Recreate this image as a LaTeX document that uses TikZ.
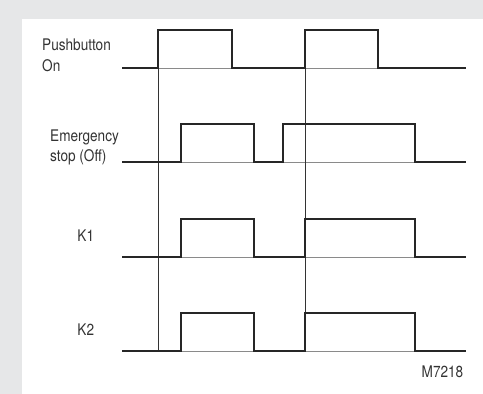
\documentclass[tikz,border=0pt]{standalone}
\usepackage{fontspec}
\setmainfont{TeX Gyre Heros}[FakeStretch=0.85]
\definecolor{bggray}{HTML}{E6E7E8}
\definecolor{txtgray}{HTML}{333333}
\definecolor{basegray}{HTML}{8A8A8A}
\tikzset{
  lbl/.style={anchor=base west, inner sep=0pt, text=txtgray, font=\fontsize{16}{19}\selectfont},
  wave/.style={line width=2pt, black!85, line join=miter},
  baseln/.style={line width=0.8pt, basegray},
  marker/.style={line width=0.8pt, black!80}
}
\begin{document}
\begin{tikzpicture}[x=1pt,y=-1pt]
\fill[bggray] (0,0) rectangle (483,394);
\fill[white] (22,19) rectangle (483,394);
\useasboundingbox (0,0) rectangle (483,394);
% thin baselines
\foreach \yy in {68,162,257,351} \draw[baseln] (122,\yy) -- (466,\yy);
% vertical reference lines
\draw[marker] (158,30) -- (158,351);
\draw[marker] (305,30) -- (305,351);
% waveforms
\draw[wave] (122,68) -- (158,68) -- (158,30) -- (232,30) -- (232,68) -- (305,68) -- (305,30) -- (378,30) -- (378,68) -- (466,68);
\draw[wave] (122,162) -- (181,162) -- (181,124) -- (254,124) -- (254,162) -- (283,162) -- (283,124) -- (415,124) -- (415,162) -- (466,162);
\draw[wave] (122,257) -- (181,257) -- (181,219) -- (254,219) -- (254,257) -- (305,257) -- (305,219) -- (415,219) -- (415,257) -- (466,257);
\draw[wave] (122,351) -- (181,351) -- (181,313) -- (254,313) -- (254,351) -- (305,351) -- (305,313) -- (415,313) -- (415,351) -- (466,351);
% labels
\node[lbl] (pb1) at (42,50.7) {Pushbutton};
\node[lbl] (pb2) at (42,71) {On};
\node[lbl] (es1) at (50,141.3) {Emergency};
\node[lbl] (es2) at (50,161.5) {stop (Off)};
\node[lbl] (k1) at (77.3,241.3) {K1};
\node[lbl] (k2) at (77.3,335.7) {K2};
\node[lbl, anchor=base east] (code) at (463.5,377) {M7218};
\end{tikzpicture}
\end{document}
